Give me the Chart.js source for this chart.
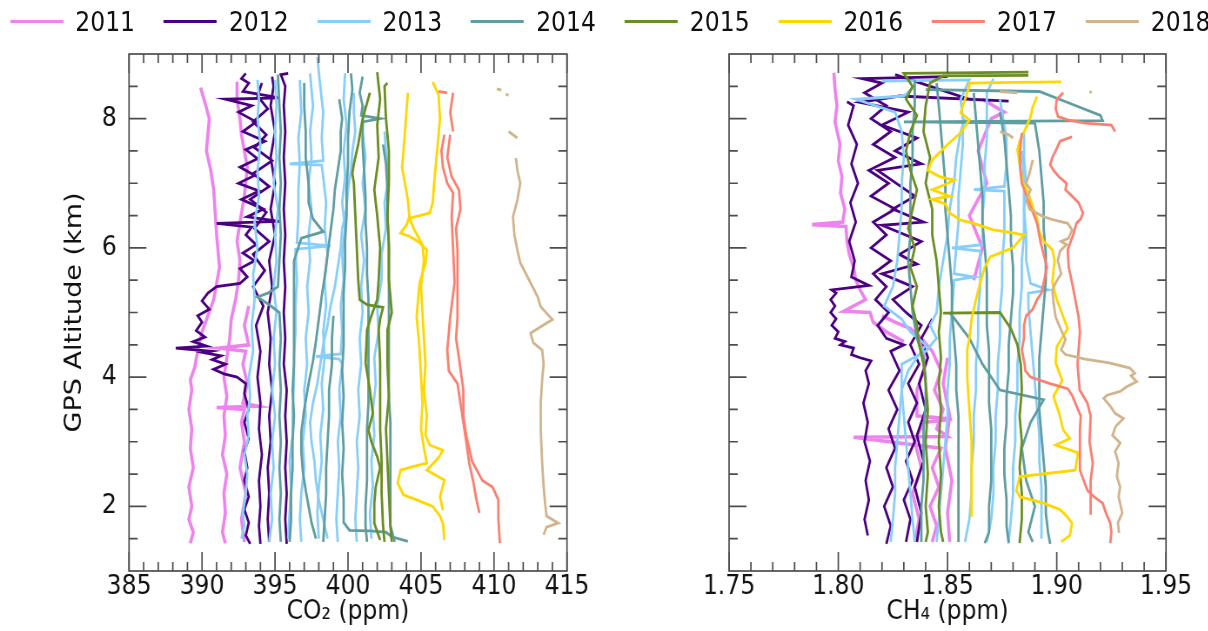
<!DOCTYPE html>
<html>
<head>
<meta charset="utf-8">
<script src="https://cdn.jsdelivr.net/npm/chart.js@4.4.0/dist/chart.umd.min.js"></script>
<style>
  body { margin: 0; background: #fff; overflow: hidden; }
  /* the reference is squeezed horizontally, so the whole figure is drawn wide and scaled */
  #fig { position: absolute; left: 0; top: 0; width: 1389px; height: 631px; transform: scaleX(0.87); transform-origin: 0 0; }
  #fig canvas { position: absolute; top: 0; }
  .leg { position: absolute; top: 5px; height: 33px; display: flex; align-items: center; font: 27px "DejaVu Sans"; color: #111; white-space: nowrap; }
  .leg i { display: inline-block; width: 61px; height: 3px; margin-right: 14px; }
</style>
</head>
<body>
<div id="fig">
  <canvas id="co2" width="694" height="631" style="left:0"></canvas>
  <canvas id="ch4" width="695" height="631" style="left:694px"></canvas>
</div>
<script>
const years = ['2011', '2012', '2013', '2014', '2015', '2016', '2017', '2018'];
const yearColors = ['#ee82ee', '#4b0082', '#87cefa', '#5f9ea0', '#6b8e23', '#ffd700', '#fa8072', '#d2b48c'];

const co2Major = [385, 390, 395, 400, 405, 410, 415];
const co2Minor = [386, 387, 388, 389, 391, 392, 393, 394, 396, 397, 398, 399, 401, 402, 403, 404, 406, 407, 408, 409, 411, 412, 413, 414];
const ch4Major = [1.75, 1.80, 1.85, 1.90, 1.95];
const ch4Minor = [1.76, 1.77, 1.78, 1.79, 1.81, 1.82, 1.83, 1.84, 1.86, 1.87, 1.88, 1.89, 1.91, 1.92, 1.93, 1.94];
const altMajor = [2, 4, 6, 8];
const altMinor = [1.5, 2.5, 3, 3.5, 4.5, 5, 5.5, 6.5, 7, 7.5, 8.5];

// CO2 profiles, [ppm, km]
const co2_2011 = [
  [[389.2,1.43],[389.4,1.6],[389.1,1.8],[389.3,2.0],[389.1,2.3],[389.4,2.6],[389.2,2.9],[389.3,3.2],[389.1,3.5],[389.3,3.8],[389.2,3.96],[389.5,4.15],[389.7,4.4],[390.0,4.7],[390.4,4.95],[390.8,5.2],[391.0,5.45],[391.2,5.7],[391.1,5.95],[391.0,6.2],[390.9,6.55],[390.8,6.9],[390.6,7.2],[390.3,7.5],[390.4,7.75],[390.5,8.0],[390.2,8.25],[389.9,8.48]],
  [[391.6,1.43],[391.4,1.6],[391.6,1.9],[391.5,2.2],[391.7,2.5],[391.4,2.8],[391.6,3.1],[391.5,3.4],[391.7,3.7],[391.5,4.0],[391.7,4.3],[391.9,4.6],[392.0,4.9],[392.3,5.2],[392.5,5.5],[392.6,5.8],[392.4,6.1],[392.6,6.4],[392.9,6.8],[393.1,7.25],[392.9,7.5],[392.7,7.75],[392.6,8.0],[392.4,8.3],[392.4,8.57]],
  [[392.9,1.45],[392.7,1.8],[393.0,2.2],[392.6,2.6],[392.9,3.0],[392.7,3.3],[392.9,3.5],[391.0,3.53],[393.8,3.55],[392.8,3.6],[393.1,3.9],[392.8,4.2],[393.0,4.4],[391.2,4.45],[393.2,4.5],[392.9,4.8],[393.2,5.1]]
];
const co2_2012 = [
  [[393.3,1.42],[393.0,1.55],[393.2,1.75],[392.9,1.95],[393.2,2.15],[392.9,2.4],[393.1,2.6],[392.9,2.85],[393.2,3.05],[392.9,3.3],[393.2,3.5],[392.9,3.75],[393.0,3.9],[392.4,4.0],[391.5,4.05],[390.8,4.12],[391.6,4.2],[390.7,4.27],[391.3,4.33],[390.1,4.38],[390.6,4.4],[388.2,4.45],[390.3,4.48],[389.4,4.55],[390.2,4.62],[389.6,4.72],[390.0,4.85],[389.7,4.95],[390.5,5.05],[390.0,5.18],[390.4,5.3],[391.0,5.4],[392.6,5.45],[393.1,5.55],[392.6,5.68],[393.6,5.8],[392.8,5.92],[393.7,6.05],[393.0,6.2],[393.4,6.32],[391.0,6.38],[395.3,6.41],[393.1,6.48],[394.2,6.6],[392.7,6.75],[393.9,6.88],[392.5,7.0],[393.6,7.12],[392.6,7.25],[393.8,7.38],[393.0,7.52],[394.3,7.65],[392.8,7.8],[393.7,7.95],[392.5,8.1],[393.4,8.2],[391.6,8.3],[395.3,8.32],[392.8,8.42],[393.2,8.55],[392.7,8.62],[393.0,8.7]],
  [[394.0,1.42],[393.9,1.7],[394.0,2.0],[393.9,2.4],[394.1,2.8],[393.9,3.2],[394.0,3.6],[393.8,4.0],[394.0,4.4],[393.7,4.8],[394.2,5.1],[393.5,5.4],[394.3,5.65],[393.5,5.9],[394.6,6.1],[393.6,6.3],[394.4,6.55],[393.3,6.75],[394.6,6.95],[393.5,7.15],[394.8,7.35],[393.6,7.55],[394.4,7.75],[393.5,7.95],[394.5,8.15],[393.8,8.35],[394.1,8.55]],
  [[394.6,1.45],[394.5,1.8],[394.6,2.2],[394.5,2.6],[394.7,3.0],[394.6,3.4],[394.8,3.8],[394.6,4.2],[394.7,4.6],[394.5,5.0],[394.8,5.4],[394.6,5.8],[395.0,6.2],[394.7,6.6],[395.0,7.0],[394.7,7.4],[395.0,7.8],[394.7,8.2],[394.9,8.5],[394.8,8.65]],
  [[395.8,1.42],[395.7,1.8],[395.8,2.2],[395.7,2.6],[395.8,3.0],[395.7,3.4],[395.8,3.8],[395.6,4.2],[395.7,4.6],[395.6,5.0],[395.7,5.4],[395.6,5.8],[395.7,6.2],[395.6,6.6],[395.7,7.0],[395.6,7.4],[395.7,7.8],[395.6,8.2],[395.7,8.5],[395.4,8.68],[395.9,8.7]]
];
const co2_2013 = [
  [[392.7,1.5],[392.9,1.7],[392.8,1.9],[393.0,2.2],[393.1,2.5],[392.9,2.8],[393.2,3.1],[393.1,3.4],[393.3,3.7],[393.2,4.0],[393.5,4.4],[393.4,4.8],[393.6,5.2],[393.5,5.6],[393.8,6.0],[393.6,6.4],[393.9,6.8],[393.8,7.2],[394.0,7.6],[393.8,8.0],[393.9,8.3],[393.8,8.6]],
  [[394.6,1.45],[394.8,1.8],[394.7,2.2],[394.9,2.6],[394.8,3.0],[395.0,3.4],[394.8,3.8],[395.0,4.2],[394.9,4.6],[395.1,5.0],[394.9,5.4],[395.1,5.8],[395.0,6.2],[395.2,6.6],[394.9,7.0],[395.1,7.4],[395.0,7.8],[395.1,8.2],[395.0,8.6]],
  [[396.8,1.45],[396.7,1.8],[396.8,2.2],[397.0,2.6],[396.9,3.0],[397.1,3.4],[397.0,3.8],[397.2,4.2],[397.1,4.6],[397.3,5.0],[397.2,5.4],[397.4,5.8],[397.3,6.2],[397.5,6.6],[397.3,7.0],[397.5,7.4],[397.4,7.8],[397.6,8.2],[397.4,8.7]],
  [[398.0,1.5],[397.9,1.9],[398.0,2.3],[398.2,2.7],[398.1,3.1],[398.3,3.5],[398.2,3.9],[398.4,4.3],[398.3,4.7],[398.5,5.1],[398.4,5.5],[398.6,5.9],[398.4,6.3],[398.5,6.7],[398.3,7.1],[398.2,7.28],[396.0,7.3],[398.3,7.35],[398.2,7.7],[398.3,8.1],[398.1,8.5],[397.9,8.95]],
  [[399.3,1.45],[399.2,1.8],[399.3,2.2],[399.4,2.6],[399.3,3.0],[399.5,3.4],[399.4,3.8],[399.6,4.2],[399.4,4.28],[397.8,4.32],[399.5,4.36],[399.6,4.7],[399.5,5.1],[399.7,5.5],[399.6,5.9],[399.8,6.3],[399.6,6.7],[399.8,7.1],[399.7,7.5],[399.9,7.9],[399.7,8.3],[399.8,8.7]],
  [[400.6,1.45],[400.5,1.8],[400.6,2.2],[400.7,2.6],[400.6,3.0],[400.8,3.4],[400.7,3.8],[400.9,4.2],[400.8,4.6],[401.0,5.0],[400.9,5.4],[401.1,5.8],[400.9,6.2],[401.2,6.6],[401.0,7.0],[401.2,7.4],[401.0,7.8],[401.1,8.2]],
  [[401.6,1.5],[401.5,1.9],[401.7,2.3],[401.6,2.7],[401.8,3.1],[401.7,3.5],[401.9,3.9],[401.8,4.3],[402.1,4.7],[402.0,5.1],[402.3,5.5],[402.3,5.9],[402.6,6.3],[402.5,6.7],[402.8,7.1],[402.6,7.5],[402.5,7.8]],
  [[398.6,1.5],[398.3,1.8],[398.0,2.1],[397.8,2.4],[397.7,2.7],[397.5,3.0],[397.4,3.3],[397.6,3.6],[397.9,3.9],[398.1,4.2],[398.3,4.5],[398.6,4.8],[398.8,5.1],[399.1,5.4],[399.3,5.7],[399.5,6.0],[399.6,6.3],[399.9,6.6],[400.0,6.9],[400.2,7.2],[400.3,7.5],[400.5,7.8],[400.4,8.1],[400.4,8.4]],
  [[395.9,1.5],[396.0,1.9],[396.1,2.3],[396.0,2.7],[396.2,3.1],[396.2,3.5],[396.3,3.9],[396.3,4.3],[396.4,4.7],[396.4,5.1],[396.5,5.5],[396.4,5.98],[398.8,6.03],[396.5,6.08],[396.6,6.5],[396.6,6.9],[396.7,7.3],[396.6,7.7],[396.8,8.1],[396.7,8.6]]
];
const co2_2014 = [
  [[395.4,1.45],[395.3,1.8],[395.4,2.2],[395.3,2.6],[395.4,3.0],[395.3,3.4],[395.4,3.8],[395.3,4.2],[395.4,4.6],[395.3,5.0],[394.6,5.12],[393.8,5.24],[394.5,5.3],[395.2,5.4],[395.3,5.8],[395.4,6.2],[395.3,6.6],[395.4,7.0],[395.3,7.4],[395.4,7.8],[395.3,8.2],[395.2,8.68]],
  [[396.0,1.45],[396.1,1.8],[396.1,2.2],[396.2,2.6],[396.2,3.0],[396.3,3.4],[396.2,3.8],[396.3,4.2],[396.3,4.6],[396.3,5.0],[396.3,5.4],[396.3,5.8],[396.8,6.15],[398.3,6.25],[397.6,6.45],[397.3,6.7],[397.3,7.0],[397.1,7.4],[397.1,7.8],[397.0,8.2],[397.0,8.55]],
  [[397.8,1.5],[397.5,1.75],[397.3,2.0],[397.1,2.25],[396.9,2.55],[396.8,2.85],[396.8,3.15],[397.0,3.5],[397.3,3.9],[397.6,4.25],[397.8,4.55],[398.0,4.9],[398.2,5.25],[398.4,5.55],[398.6,5.9],[398.8,6.25],[399.0,6.6],[399.1,6.9],[399.3,7.2],[399.5,7.5],[399.5,7.8],[399.6,8.0],[399.4,8.3]],
  [[400.2,8.7],[400.3,8.45],[400.1,8.1],[400.0,7.7],[400.0,7.3],[399.9,6.9],[399.9,6.5],[399.8,6.1],[399.8,5.7],[399.7,5.3],[399.7,4.9],[399.7,4.5],[399.6,4.1],[399.7,3.7],[399.6,3.3],[399.7,2.9],[399.6,2.5],[399.7,2.1],[399.7,1.75],[400.1,1.63],[401.5,1.62],[402.6,1.6],[403.0,1.53],[404.1,1.46]],
  [[401.0,8.65],[400.8,8.4],[401.0,8.2],[400.9,8.05],[402.2,8.0],[401.0,7.95],[401.0,7.6],[401.1,7.2],[401.2,6.8],[401.2,6.4],[401.3,6.0],[401.3,5.6],[401.4,5.2],[401.4,4.8],[401.4,4.4],[401.4,4.0],[401.4,3.6],[401.3,3.2],[401.3,2.8],[401.3,2.4],[401.2,2.0],[401.2,1.7],[401.3,1.45]],
  [[402.4,7.6],[402.6,7.3],[402.7,6.9],[402.7,6.5],[402.8,6.1],[402.8,5.7],[402.8,5.3],[402.8,4.9],[402.8,4.5],[402.8,4.1],[402.8,3.7],[402.9,3.3],[402.9,2.9],[402.9,2.5],[402.9,2.1],[402.9,1.7],[403.2,1.45]],
  [[398.3,1.45],[398.4,1.8],[398.5,2.2],[398.5,2.6],[398.6,3.0],[398.7,3.4],[398.7,3.8],[398.9,4.2],[398.9,4.6],[399.0,4.95]]
];
const co2_2015 = [
  [[402.0,8.72],[402.2,8.3],[402.0,7.9],[402.1,7.4],[401.8,6.9],[402.0,6.5],[402.2,6.0],[402.1,5.5],[402.0,5.2],[401.6,4.95],[401.3,4.73],[401.2,4.22],[401.5,3.8],[401.7,3.44],[401.4,3.18],[401.6,3.0],[402.0,2.77],[402.2,2.6],[401.9,2.3],[401.8,2.05],[401.8,1.74],[402.2,1.48]],
  [[402.7,8.55],[402.5,8.5],[402.6,8.0],[402.8,7.5],[402.8,7.0],[402.7,6.5],[402.8,6.0],[402.8,5.5],[403.0,5.0],[402.7,4.73],[402.7,4.2],[402.8,3.7],[402.6,3.2],[402.7,2.7],[402.8,2.2],[402.9,1.7],[403.0,1.45]],
  [[401.5,8.4],[401.0,8.0],[400.7,7.6],[400.4,7.3],[400.3,7.15],[400.4,7.0],[400.5,6.5],[400.6,6.0],[400.7,5.5],[400.8,5.2],[401.3,5.12],[402.4,5.08],[402.2,4.9],[402.1,4.73],[402.2,4.22],[402.2,3.7],[402.2,3.2],[402.3,2.7],[402.3,2.2],[402.4,1.7],[402.5,1.45]]
];
const co2_2016 = [
  [[404.1,8.4],[404.0,8.1],[403.9,7.78],[403.8,7.5],[403.7,7.25],[403.9,7.0],[404.1,6.74],[404.2,6.48],[404.0,6.35],[403.6,6.23],[404.2,6.18],[404.8,6.1],[405.4,5.97],[405.3,5.75],[404.9,5.46],[404.8,5.2],[404.7,4.93],[404.8,4.7],[404.9,4.42],[405.0,4.0],[405.1,3.6],[405.0,3.2],[405.2,2.9],[405.4,2.67],[404.5,2.62],[403.6,2.56],[403.4,2.36],[403.8,2.18],[404.7,2.1],[405.8,2.0],[406.3,1.85],[406.5,1.74],[406.6,1.48]],
  [[405.8,8.57],[406.2,8.37],[406.3,8.0],[406.1,7.5],[405.9,7.0],[405.8,6.7],[405.6,6.54],[404.9,6.5],[404.2,6.46],[404.5,6.3],[405.1,6.05],[405.2,5.8],[405.0,5.4],[405.1,5.0],[405.2,4.6],[405.3,4.2],[405.2,3.8],[405.4,3.4],[405.3,3.1],[405.6,2.95],[406.5,2.87],[406.2,2.75],[405.4,2.56],[406.6,2.41],[406.3,2.15],[406.5,1.94]]
];
const co2_2017 = [
  [[406.2,8.42],[406.8,8.4]],
  [[407.2,8.4],[407.0,8.1],[407.2,7.8]],
  [[406.6,7.75],[406.4,7.5],[406.5,7.25],[406.8,7.0],[407.2,6.85],[407.1,6.48],[407.2,5.97],[407.3,5.46],[407.0,4.93],[406.8,4.42],[406.9,4.1],[407.5,3.9],[407.7,3.6],[407.9,3.3],[408.1,3.0],[408.3,2.67],[408.6,2.36],[408.8,2.1],[409.0,1.9]],
  [[407.0,7.75],[406.8,7.4],[407.1,7.1],[407.6,6.9],[407.7,6.6],[407.4,6.3],[407.5,5.97],[407.5,5.46],[407.5,4.93],[407.4,4.6],[407.6,4.3],[407.9,3.8],[407.9,3.4],[408.1,3.1],[408.5,2.7],[409.2,2.4],[409.9,2.3],[410.3,2.1],[410.3,1.8],[410.4,1.43]]
];
const co2_2018 = [
  [[410.2,8.46],[410.5,8.44]],
  [[410.8,8.38],[411.0,8.36]],
  [[411.0,7.8],[411.3,7.75],[411.6,7.7]],
  [[411.5,7.39],[411.6,7.2],[411.8,7.0],[411.6,6.74],[411.3,6.48],[411.4,6.2],[411.6,5.97],[411.8,5.77],[412.5,5.46],[413.0,5.24],[413.2,5.09],[414.0,4.89],[413.2,4.78],[412.5,4.68],[412.7,4.53],[413.3,4.42],[413.4,4.2],[413.3,3.96],[413.2,3.6],[413.2,3.18],[413.3,2.67],[413.4,2.3],[413.5,2.05],[413.6,1.85],[414.4,1.74],[413.6,1.68],[413.4,1.56]]
];

// CH4 profiles, [ppm, km]
const ch4_2011 = [
  [[1.798,8.71],[1.7985,8.45],[1.7994,8.2],[1.7985,7.95],[1.8008,7.6],[1.800,7.35],[1.8017,7.1],[1.801,6.85],[1.803,6.6],[1.802,6.4],[1.788,6.36],[1.8035,6.33],[1.804,6.1],[1.805,5.9],[1.807,5.7],[1.808,5.5],[1.810,5.35],[1.8125,5.2],[1.8025,5.02],[1.8145,5.0],[1.816,4.85],[1.822,4.7],[1.83,4.55]],
  [[1.843,1.45],[1.845,1.7],[1.842,2.0],[1.846,2.3],[1.843,2.6],[1.847,2.9],[1.807,3.07],[1.850,3.08],[1.845,3.2],[1.848,3.5],[1.844,3.8],[1.847,4.1],[1.843,4.4],[1.838,4.6],[1.833,4.75],[1.826,4.85],[1.820,4.95]],
  [[1.835,1.45],[1.837,1.8],[1.834,2.2],[1.838,2.6],[1.835,3.0],[1.839,3.3],[1.852,3.35],[1.836,3.4],[1.836,3.8],[1.840,4.2],[1.837,4.6]],
  [[1.851,1.45],[1.850,1.9],[1.852,2.4],[1.849,2.9],[1.851,3.4],[1.848,3.9],[1.850,4.3]],
  [[1.862,5.5],[1.866,6.0],[1.860,6.5],[1.868,7.0],[1.864,7.5],[1.870,8.0],[1.876,8.1],[1.866,8.3]]
];
const ch4_2012 = [
  [[1.8135,1.55],[1.812,1.8],[1.814,2.1],[1.8125,2.4],[1.8145,2.7],[1.812,3.0],[1.8135,3.3],[1.8115,3.6],[1.814,3.9],[1.8125,4.1],[1.815,4.25],[1.810,4.3],[1.806,4.35],[1.807,4.45],[1.801,4.5],[1.803,4.55],[1.7985,4.6],[1.800,4.7],[1.797,4.8],[1.799,4.9],[1.7965,5.0],[1.7985,5.1],[1.7965,5.2],[1.799,5.3],[1.797,5.35],[1.814,5.42],[1.806,5.55],[1.8075,5.8],[1.805,6.1],[1.808,6.4],[1.8055,6.7],[1.809,7.0],[1.806,7.3],[1.8085,7.6],[1.8045,7.9],[1.807,8.2],[1.804,8.26]],
  [[1.822,1.42],[1.824,1.7],[1.821,2.0],[1.825,2.3],[1.822,2.6],[1.826,2.9],[1.823,3.2],[1.827,3.5],[1.823,3.8],[1.828,4.1],[1.824,4.4],[1.830,4.5],[1.822,4.6],[1.818,4.8],[1.823,5.0],[1.817,5.2],[1.822,5.4],[1.816,5.6],[1.824,5.8],[1.815,6.0],[1.822,6.2],[1.816,6.4],[1.826,6.6],[1.815,6.8],[1.823,7.0],[1.814,7.2],[1.826,7.4],[1.816,7.6],[1.824,7.8],[1.815,8.0],[1.822,8.2],[1.812,8.4],[1.820,8.55],[1.811,8.62],[1.850,8.65]],
  [[1.831,1.45],[1.833,1.8],[1.830,2.1],[1.834,2.4],[1.831,2.7],[1.835,3.0],[1.832,3.3],[1.836,3.6],[1.832,3.9],[1.837,4.2],[1.833,4.5],[1.838,4.8],[1.831,5.0],[1.825,5.2],[1.834,5.4],[1.820,5.6],[1.836,5.75],[1.828,5.9],[1.838,6.1],[1.820,6.35],[1.839,6.4],[1.825,6.6],[1.835,6.8],[1.818,7.2],[1.838,7.3],[1.826,7.5],[1.836,7.7],[1.820,7.9],[1.832,8.1],[1.810,8.25],[1.828,8.35],[1.878,8.27],[1.860,8.3],[1.826,8.68]],
  [[1.836,1.45],[1.838,1.9],[1.835,2.3],[1.839,2.7],[1.836,3.1],[1.840,3.5],[1.837,3.9],[1.841,4.3],[1.838,4.6],[1.843,4.9]]
];
const ch4_2013 = [
  [[1.824,1.45],[1.825,1.8],[1.826,2.2],[1.826,2.6],[1.827,3.0],[1.828,3.4],[1.829,3.8],[1.832,4.1],[1.836,4.3],[1.840,4.5],[1.833,4.7],[1.829,4.9],[1.821,5.1],[1.825,5.4],[1.827,5.8],[1.828,6.2],[1.829,6.6],[1.829,7.0],[1.830,7.4],[1.829,7.8],[1.826,8.1],[1.808,8.3],[1.830,8.35],[1.835,8.5]],
  [[1.845,1.45],[1.846,1.8],[1.847,2.2],[1.848,2.6],[1.849,3.0],[1.850,3.4],[1.850,3.8],[1.851,4.2],[1.851,4.6],[1.852,5.0],[1.853,5.5],[1.862,5.55],[1.853,5.6],[1.854,6.0],[1.855,6.4],[1.855,6.8],[1.856,7.2],[1.857,7.6],[1.857,8.0],[1.856,8.3],[1.860,8.6],[1.820,8.58]],
  [[1.858,1.45],[1.860,1.8],[1.861,2.2],[1.861,2.6],[1.862,3.0],[1.862,3.4],[1.863,3.8],[1.863,4.2],[1.864,4.6],[1.864,5.0],[1.865,5.4],[1.865,5.95],[1.852,6.0],[1.866,6.05],[1.866,6.5],[1.867,6.9],[1.867,7.3],[1.868,7.7],[1.868,8.1],[1.868,8.4],[1.871,8.62]],
  [[1.868,1.45],[1.870,1.8],[1.871,2.2],[1.871,2.6],[1.872,3.0],[1.872,3.4],[1.873,3.8],[1.873,4.2],[1.874,4.6],[1.874,5.0],[1.875,5.4],[1.875,5.8],[1.876,6.2],[1.876,6.6],[1.876,6.88],[1.862,6.9],[1.876,6.95],[1.877,7.3],[1.877,7.7],[1.875,8.1],[1.874,8.3]],
  [[1.878,1.45],[1.879,1.8],[1.880,2.2],[1.880,2.6],[1.881,3.0],[1.881,3.4],[1.882,3.8],[1.882,4.2],[1.883,4.6],[1.883,5.0],[1.884,5.4],[1.884,5.8],[1.885,6.2],[1.885,6.6],[1.886,7.0],[1.885,7.4],[1.885,7.8]],
  [[1.893,1.5],[1.893,1.9],[1.893,2.3],[1.892,2.7],[1.892,3.1],[1.891,3.5],[1.890,3.9],[1.889,4.3],[1.888,4.7],[1.887,5.1],[1.887,5.3],[1.896,5.35],[1.888,5.45],[1.886,5.8],[1.886,6.2],[1.885,6.6],[1.885,7.0],[1.884,7.5]],
  [[1.835,1.45],[1.834,1.8],[1.833,2.2],[1.832,2.6],[1.831,3.0],[1.830,3.4],[1.829,3.8],[1.829,4.2],[1.840,4.4],[1.845,4.6],[1.842,4.8],[1.845,5.0],[1.846,5.4],[1.848,5.8],[1.850,6.2],[1.851,6.6],[1.853,7.0],[1.854,7.4],[1.856,7.8],[1.858,8.0]]
];
const ch4_2014 = [
  [[1.835,8.6],[1.835,8.2],[1.834,7.8],[1.834,7.4],[1.833,7.0],[1.833,6.6],[1.833,6.2],[1.832,5.8],[1.833,5.4],[1.834,5.0],[1.836,4.6],[1.839,4.3],[1.840,4.0],[1.840,3.6],[1.839,3.2],[1.839,2.8],[1.839,2.4],[1.838,2.0],[1.838,1.6],[1.838,1.45]],
  [[1.845,8.55],[1.846,8.2],[1.847,7.8],[1.848,7.4],[1.849,7.0],[1.849,6.6],[1.850,6.2],[1.851,5.8],[1.852,5.4],[1.852,5.0],[1.853,4.6],[1.854,4.2],[1.854,3.8],[1.855,3.4],[1.855,3.0],[1.855,2.6],[1.855,2.2],[1.855,1.8],[1.855,1.45]],
  [[1.862,8.4],[1.863,8.0],[1.864,7.6],[1.865,7.2],[1.866,6.8],[1.866,6.4],[1.867,6.0],[1.868,5.6],[1.868,5.2],[1.868,4.8],[1.869,4.4],[1.869,4.0],[1.869,3.6],[1.870,3.2],[1.870,2.8],[1.870,2.4],[1.869,2.0],[1.869,1.6],[1.867,1.43]],
  [[1.874,8.1],[1.876,7.7],[1.877,7.3],[1.878,6.9],[1.879,6.5],[1.879,6.1],[1.880,5.7],[1.880,5.3],[1.879,4.9],[1.878,4.5],[1.878,4.1],[1.877,3.7],[1.877,3.3],[1.876,2.9],[1.876,2.5],[1.877,2.1],[1.877,1.7],[1.878,1.43]],
  [[1.840,8.45],[1.892,8.42],[1.905,8.25],[1.920,8.05],[1.921,7.97],[1.830,7.95],[1.890,7.93],[1.892,7.5],[1.893,7.1],[1.894,6.7],[1.894,6.3],[1.895,5.9],[1.895,5.5],[1.894,5.1],[1.893,4.7],[1.892,4.3],[1.892,3.9],[1.892,3.5],[1.893,3.1],[1.894,2.7],[1.895,2.3],[1.895,1.9],[1.896,1.6],[1.897,1.42]],
  [[1.851,5.0],[1.860,4.6],[1.866,4.2],[1.874,3.8],[1.894,3.65],[1.888,3.3],[1.884,2.9],[1.886,2.4],[1.890,2.0],[1.887,1.6],[1.889,1.45]]
];
const ch4_2015 = [
  [[1.887,8.72],[1.830,8.70],[1.834,8.5],[1.831,8.3],[1.836,8.05],[1.833,7.8],[1.831,7.5],[1.833,7.2],[1.836,6.9],[1.834,6.6],[1.832,6.3],[1.835,6.0],[1.833,5.7],[1.836,5.4],[1.834,5.1],[1.836,4.8],[1.837,4.5],[1.839,4.2],[1.840,3.9],[1.841,3.5],[1.840,3.0],[1.841,2.5],[1.840,2.0],[1.841,1.6],[1.840,1.45]],
  [[1.887,8.67],[1.848,8.66],[1.842,8.55],[1.840,8.2],[1.839,7.8],[1.842,7.4],[1.840,7.0],[1.843,6.6],[1.843,6.2],[1.845,5.8],[1.846,5.4],[1.847,5.0],[1.846,4.7],[1.847,4.3],[1.846,3.9],[1.847,3.5],[1.846,3.0],[1.847,2.5],[1.846,2.0],[1.847,1.6],[1.848,1.45]],
  [[1.848,4.99],[1.874,5.0],[1.879,4.75],[1.882,4.5],[1.8835,4.2],[1.884,3.8],[1.883,3.4],[1.884,3.0],[1.883,2.6],[1.884,2.2],[1.884,1.8],[1.883,1.43]]
];
const ch4_2016 = [
  [[1.902,8.57],[1.880,8.56],[1.860,8.55],[1.860,8.5],[1.858,8.3],[1.856,8.09],[1.860,7.98],[1.856,7.78],[1.850,7.6],[1.843,7.36],[1.841,7.2],[1.8466,7.1],[1.853,7.05],[1.849,6.98],[1.843,6.9],[1.851,6.8],[1.843,6.75],[1.849,6.68],[1.851,6.54],[1.856,6.43],[1.862,6.38],[1.871,6.28],[1.8786,6.24],[1.885,6.2],[1.880,6.0],[1.876,5.95],[1.8695,5.86],[1.867,5.7],[1.865,5.46],[1.863,5.2],[1.861,4.9],[1.860,4.6],[1.859,4.42],[1.859,4.0],[1.860,3.5],[1.861,3.0],[1.861,2.67],[1.861,2.2],[1.861,1.84]],
  [[1.891,8.34],[1.889,8.18],[1.888,8.03],[1.8855,7.83],[1.883,7.65],[1.882,7.52],[1.883,7.3],[1.8846,7.0],[1.887,6.85],[1.889,6.64],[1.891,6.45],[1.892,6.25],[1.894,6.1],[1.898,5.97],[1.899,5.8],[1.8985,5.65],[1.898,5.46],[1.900,5.2],[1.903,4.93],[1.905,4.75],[1.900,4.47],[1.8995,4.22],[1.9025,3.95],[1.8985,3.7],[1.901,3.45],[1.903,3.18],[1.906,3.05],[1.8995,2.95],[1.9097,2.83],[1.9085,2.56],[1.883,2.46],[1.8815,2.25],[1.883,2.15],[1.894,2.05],[1.9015,1.95],[1.9045,1.85],[1.907,1.74],[1.906,1.55],[1.902,1.45]]
];
const ch4_2017 = [
  [[1.903,8.4],[1.900,8.3],[1.8995,8.15],[1.9006,8.03],[1.905,7.98],[1.913,7.93],[1.925,7.9],[1.9267,7.8]],
  [[1.907,7.72],[1.9015,7.65],[1.8995,7.5],[1.898,7.4],[1.897,7.29],[1.8985,7.2],[1.901,7.1],[1.9045,7.0],[1.904,6.9],[1.907,6.8],[1.910,6.7],[1.912,6.54],[1.911,6.45],[1.909,6.38],[1.9075,6.2],[1.905,5.97],[1.9055,5.7],[1.907,5.46],[1.9085,5.2],[1.910,4.93],[1.9106,4.7],[1.9095,4.2],[1.9105,3.8],[1.914,3.6],[1.9155,3.4],[1.915,3.0],[1.9165,2.67],[1.9155,2.4],[1.9155,1.87]],
  [[1.884,7.78],[1.8832,7.5],[1.8832,7.25],[1.884,7.0],[1.8862,6.8],[1.8885,6.6],[1.891,6.38],[1.8925,6.1],[1.894,5.9],[1.8955,5.7],[1.894,5.46],[1.893,5.3],[1.891,5.2],[1.889,5.05],[1.886,4.95],[1.885,4.8],[1.885,4.6],[1.884,4.42],[1.8853,4.2],[1.8856,4.1],[1.888,4.0],[1.897,3.9],[1.905,3.82],[1.907,3.72],[1.9097,3.5],[1.911,3.4],[1.9106,3.18],[1.9106,2.9],[1.9106,2.56],[1.914,2.25],[1.917,2.15],[1.921,2.05],[1.9225,1.9],[1.9245,1.74],[1.925,1.6],[1.9245,1.43]]
];
const ch4_2018 = [
  [[1.915,8.42],[1.916,8.4]],
  [[1.874,8.42],[1.882,8.4]],
  [[1.874,7.8],[1.878,7.75],[1.880,7.7]],
  [[1.889,7.36],[1.8875,7.15],[1.886,7.0],[1.888,6.9],[1.886,6.74],[1.8875,6.6],[1.894,6.48],[1.900,6.42],[1.905,6.38],[1.907,6.28],[1.9055,6.15],[1.902,6.1],[1.9045,6.05],[1.9015,5.95],[1.9005,5.8],[1.902,5.6],[1.8995,5.46],[1.898,5.35],[1.8985,5.15],[1.8995,4.93],[1.902,4.73],[1.904,4.58],[1.903,4.5],[1.902,4.42],[1.904,4.35],[1.913,4.28],[1.924,4.22],[1.9335,4.14],[1.9357,4.06],[1.934,4.02],[1.9366,3.93],[1.932,3.85],[1.929,3.78],[1.923,3.72],[1.9215,3.67],[1.9245,3.55],[1.9267,3.44],[1.9305,3.36],[1.927,3.24],[1.9255,3.1],[1.929,2.98],[1.9267,2.85],[1.9283,2.67],[1.9275,2.47],[1.929,2.3],[1.9283,2.15],[1.930,1.9],[1.928,1.75],[1.9285,1.59]]
];

const co2Profiles = [co2_2011, co2_2012, co2_2013, co2_2014, co2_2015, co2_2016, co2_2017, co2_2018];
const ch4Profiles = [ch4_2011, ch4_2012, ch4_2013, ch4_2014, ch4_2015, ch4_2016, ch4_2017, ch4_2018];

Chart.defaults.font.family = 'DejaVu Sans';
Chart.defaults.font.size = 27;
Chart.defaults.color = '#111';

// legend across the top
const fig = document.getElementById('fig');
years.forEach((yr, i) => {
  const item = document.createElement('div');
  item.className = 'leg';
  item.style.left = (11.5 + i * 176.6) + 'px';
  item.innerHTML = `<i style="background:${yearColors[i]}"></i>${yr}`;
  fig.appendChild(item);
});

function buildDatasets(groups) {
  const sets = [];
  groups.forEach((profiles, yi) => {
    profiles.forEach(p => {
      sets.push({
        data: p.map(([x, y]) => ({ x, y })),
        borderColor: yearColors[yi],
        borderWidth: yi === 0 ? 3.6 : 2.8,
        showLine: true,
        pointRadius: 0,
        tension: 0,
        order: years.length - 1 - yi
      });
    });
  });
  return sets;
}

// box + inward ticks on all four sides
const framePlugin = {
  id: 'frame',
  afterDatasetsDraw(chart, args, opts) {
    const { ctx, chartArea: a } = chart;
    const x = chart.scales.x, y = chart.scales.y;
    ctx.save();
    ctx.strokeStyle = '#4d4d4d';
    ctx.lineWidth = 1.7;
    ctx.beginPath();
    const vTick = (v, len) => {
      const px = x.getPixelForValue(v);
      ctx.moveTo(px, a.bottom); ctx.lineTo(px, a.bottom - len);
      ctx.moveTo(px, a.top); ctx.lineTo(px, a.top + len);
    };
    const hTick = (v, len) => {
      const py = y.getPixelForValue(v);
      ctx.moveTo(a.left, py); ctx.lineTo(a.left + len, py);
      ctx.moveTo(a.right, py); ctx.lineTo(a.right - len, py);
    };
    opts.xMajor.forEach(v => vTick(v, 19));
    opts.xMinor.forEach(v => vTick(v, 9));
    altMajor.forEach(v => hTick(v, 20));
    altMinor.forEach(v => hTick(v, 10));
    ctx.stroke();
    ctx.strokeRect(a.left, a.top, a.right - a.left, a.bottom - a.top);
    ctx.restore();
  }
};

function makeChart(id, groups, cfg) {
  return new Chart(document.getElementById(id), {
    type: 'scatter',
    data: { datasets: buildDatasets(groups) },
    options: {
      responsive: false,
      animation: false,
      events: [],
      layout: { padding: { left: 0, right: cfg.padRight, top: 54, bottom: 0 } },
      plugins: {
        legend: { display: false },
        tooltip: { enabled: false },
        frame: { xMajor: cfg.major, xMinor: cfg.minor }
      },
      scales: {
        x: {
          type: 'linear', min: cfg.min, max: cfg.max,
          grid: { display: false, drawTicks: false }, border: { display: false },
          afterBuildTicks: s => { s.ticks = cfg.major.map(v => ({ value: v })); },
          afterFit: s => { s.height = 60; },
          ticks: { autoSkip: false, maxRotation: 0, padding: 0, callback: v => cfg.fmt(v) },
          title: { display: true, text: cfg.title, padding: { top: 0, bottom: 3 } }
        },
        y: {
          type: 'linear', min: 1, max: 9,
          grid: { display: false, drawTicks: false }, border: { display: false },
          afterBuildTicks: s => { s.ticks = altMajor.map(v => ({ value: v })); },
          afterFit: s => { s.width = cfg.yWidth; },
          ticks: { display: cfg.showY, padding: 14, callback: v => String(v) },
          title: { display: cfg.showY, text: 'GPS Altitude (km)', padding: { top: 70, bottom: 0 } }
        }
      }
    },
    plugins: [framePlugin]
  });
}

makeChart('co2', co2Profiles, {
  min: 385, max: 415, major: co2Major, minor: co2Minor,
  fmt: v => String(Math.round(v)), title: 'CO\u2082 (ppm)',
  showY: true, yWidth: 148.3, padRight: 42.3
});
makeChart('ch4', ch4Profiles, {
  min: 1.75, max: 1.95, major: ch4Major, minor: ch4Minor,
  fmt: v => v.toFixed(2), title: 'CH\u2084 (ppm)',
  showY: false, yWidth: 144, padRight: 48.8
});
</script>
</body>
</html>
